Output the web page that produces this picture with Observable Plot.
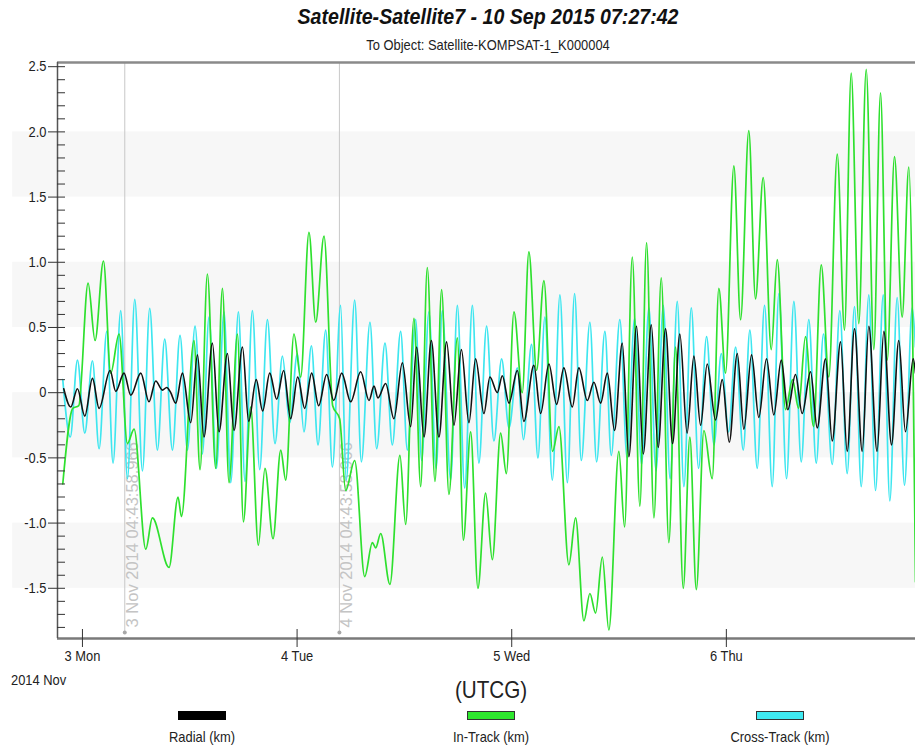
<!DOCTYPE html>
<html><head><meta charset="utf-8">
<script src="https://cdn.jsdelivr.net/npm/d3@7"></script>
<script src="https://cdn.jsdelivr.net/npm/@observablehq/plot@0.6"></script>
<style>
body{margin:0;background:#fff;}
#wrap{position:relative;width:915px;height:746px;overflow:hidden;font-family:'Liberation Sans',Arial,sans-serif;color:#111;}
.abs{position:absolute;white-space:nowrap;line-height:1;}
.c{transform:translateX(-50%) scaleX(0.86);}
.l{transform-origin:left center;transform:scaleX(0.86);}
.sw{position:absolute;width:46px;height:7px;border:1px solid #333;}
#chart{position:absolute;left:0;top:50px;}
</style></head><body>
<div id="wrap">
  <div class="abs" style="left:488px;top:6px;font-size:22px;font-weight:bold;font-style:italic;transform:translateX(-50%) scaleX(0.89);">Satellite-Satellite7 - 10 Sep 2015 07:27:42</div>
  <div class="abs c" style="left:488px;top:37px;font-size:15px;color:#222;">To Object: Satellite-KOMPSAT-1_K000004</div>
  <div id="chart"></div>
  <div class="abs l" style="left:11px;top:672px;font-size:15px;color:#222;">2014 Nov</div>
  <div class="abs c" style="left:491px;top:678px;font-size:24px;color:#222;">(UTCG)</div>
  <div class="sw" style="left:178px;top:711px;background:#000;border-color:#000;"></div>
  <div class="sw" style="left:467px;top:711px;background:#2ee82e;"></div>
  <div class="sw" style="left:756px;top:711px;background:#3feaf2;"></div>
  <div class="abs c" style="left:202px;top:729px;font-size:15px;color:#222;">Radial (km)</div>
  <div class="abs c" style="left:491px;top:729px;font-size:15px;color:#222;">In-Track (km)</div>
  <div class="abs c" style="left:780px;top:729px;font-size:15px;color:#222;">Cross-Track (km)</div>
</div>
<script>
// hours since 2014-11-03 00:00 UTCG and values in km (read at extrema)
const crossHours = [-2.20,-1.36,-0.56,0.26,1.12,1.86,2.72,3.42,4.28,5.03,
5.85,6.71,7.52,8.38,9.20,10.06,10.91,11.74,12.59,13.41,
14.15,14.98,15.83,16.58,17.44,18.18,19.00,19.82,20.68,21.53,
22.36,23.17,24.03,24.77,25.60,26.34,27.20,27.95,28.87,29.49,
30.44,31.19,32.15,32.90,33.83,34.65,35.58,36.33,37.26,37.93,
38.74,39.55,40.24,41.17,41.92,42.74,43.60,44.33,45.19,46.01,
46.87,47.69,48.63,49.30,50.22,50.93,51.71,52.54,53.39,54.22,
55.03,55.78,56.74,57.49,58.42,59.13,60.09,60.90,61.74,62.52,
63.34,64.14,64.95,65.71,66.51,67.25,68.08,68.89,69.79,70.62,
71.43,72.25,73.03,73.89,74.63,75.45,76.27,77.13,77.87,78.73,
79.55,80.37,81.22,82.05,82.86,83.84,84.69,85.51,86.33,87.08,
87.93,88.68,89.54,90.28,91.10,91.92,92.78,93.15];
const crossKm = [0.10,-0.34,0.25,-0.31,0.245,-0.43,0.47,-0.54,0.63,-0.66,
0.715,-0.60,0.646,-0.44,0.41,-0.44,0.44,-0.44,0.51,-0.47,
0.58,-0.58,0.62,-0.69,0.62,-0.68,0.63,-0.59,0.56,-0.39,
0.28,-0.23,0.30,-0.30,0.36,-0.40,0.48,-0.57,0.67,-0.67,
0.71,-0.53,0.54,-0.43,0.38,-0.40,0.47,-0.44,0.56,-0.52,
0.62,-0.58,0.63,-0.67,0.67,-0.73,0.67,-0.54,0.51,-0.37,
0.26,-0.27,0.19,-0.36,0.37,-0.50,0.58,-0.67,0.75,-0.69,
0.76,-0.52,0.54,-0.53,0.47,-0.48,0.56,-0.50,0.57,-0.55,
0.65,-0.60,0.67,-0.66,0.70,-0.72,0.65,-0.58,0.43,-0.40,
0.30,-0.30,0.35,-0.44,0.48,-0.58,0.67,-0.72,0.76,-0.66,
0.70,-0.53,0.56,-0.54,0.45,-0.55,0.63,-0.62,0.66,-0.72,
0.75,-0.75,0.75,-0.83,0.73,-0.71,0.65,0.35];

const inTrackHours = [-2.20,-1.08,-0.41,0.63,1.41,2.35,3.16,4.09,5.03,5.77,
7.08,7.82,9.68,10.69,11.07,12.47,13.15,13.97,14.90,15.65,
16.39,17.33,18.00,18.81,19.67,20.41,21.31,22.17,22.73,23.65,
24.40,25.33,26.08,27.01,27.98,28.76,29.43,30.44,31.56,32.42,
32.79,33.35,34.38,35.50,36.14,37.07,37.82,38.56,39.42,40.16,
40.98,41.92,42.59,43.41,44.22,45.08,45.83,46.76,47.40,48.25,
49.18,49.92,50.78,51.60,52.57,53.28,54.39,55.14,56.07,56.74,
57.38,58.13,58.86,59.98,60.62,61.48,62.33,63.08,63.90,64.72,
65.57,66.32,67.18,67.92,68.64,69.49,70.42,71.16,71.91,72.84,
73.59,74.51,75.26,76.12,77.02,77.69,78.62,79.40,80.07,80.85,
81.75,82.61,83.46,84.40,85.21,85.96,86.81,87.64,88.49,89.24,
89.99,90.80,91.66,92.40,93.15];
const inTrackKm = [-0.70,-0.12,-0.10,0.84,0.40,1.01,0.15,0.45,-0.39,-0.28,
-1.20,-0.96,-1.34,-0.80,-0.95,0.40,-0.59,0.91,-0.58,0.80,
-0.69,0.45,-0.99,-0.11,-1.17,-0.58,-1.12,-0.44,-0.67,0.45,
0.12,1.23,0.54,1.20,-0.10,-0.20,-0.75,-0.52,-1.41,-1.15,
-1.19,-1.08,-1.47,-0.48,-1.01,0.57,-0.72,0.96,-0.68,0.79,
-0.78,0.42,-1.13,-0.30,-1.50,-0.77,-1.28,-0.31,-0.62,0.62,
0.00,1.08,0.17,0.86,-0.45,-0.26,-1.32,-0.96,-1.75,-1.54,
-1.69,-1.26,-1.82,-0.45,-1.03,1.04,-0.87,1.15,-0.96,0.88,
-1.15,0.35,-1.50,-0.34,-1.51,-0.29,-0.66,0.80,0.15,1.74,
0.56,2.01,0.72,1.65,0.33,1.02,-0.13,0.10,-0.12,0.43,
-0.26,0.98,0.12,1.83,0.48,2.45,0.53,2.48,0.33,2.30,
0.25,1.81,0.58,1.73,-1.45];

const radialHours = [-2.09,-1.31,-0.56,0.26,1.12,1.86,3.09,3.72,4.65,5.40,
6.52,7.44,8.19,8.94,9.42,9.87,10.43,11.18,12.11,12.86,
13.59,14.53,15.27,16.21,16.95,17.89,18.59,19.43,20.15,20.94,
21.72,22.50,23.28,24.07,24.85,25.63,26.41,27.31,28.09,28.99,
29.99,31.11,32.04,32.60,33.04,33.90,34.83,35.77,36.70,37.37,
38.19,39.01,39.86,40.72,41.54,42.37,43.22,43.96,44.89,45.56,
46.39,46.95,47.69,48.63,49.36,50.48,51.23,52.16,53.02,53.83,
54.77,55.51,56.45,57.19,57.94,58.69,59.50,60.36,61.10,61.96,
62.71,63.61,64.37,65.20,65.99,66.80,67.61,68.37,69.12,69.86,
70.79,71.54,72.33,73.22,73.96,74.82,75.63,76.49,77.31,78.14,
78.87,79.73,80.48,81.41,82.16,83.09,83.84,84.77,85.51,86.33,
87.19,87.93,88.85,89.61,90.47,91.28,92.03,92.89,93.15];
const radialKm = [0.03,-0.11,0.03,-0.18,0.11,-0.12,0.17,0.01,0.15,-0.02,
0.15,-0.07,0.09,0.02,0.04,0.00,-0.08,0.15,-0.23,0.29,
-0.34,0.38,-0.30,0.30,-0.29,0.35,-0.22,0.10,-0.14,0.15,
-0.05,0.17,-0.20,0.12,-0.12,0.15,-0.10,0.14,-0.06,0.15,
-0.07,0.16,-0.06,0.05,-0.04,0.07,-0.20,0.23,-0.26,0.35,
-0.34,0.40,-0.34,0.39,-0.25,0.33,-0.23,0.26,-0.16,0.12,
0.00,0.13,-0.08,0.17,-0.22,0.21,-0.16,0.22,-0.09,0.19,
-0.11,0.19,-0.06,0.08,-0.08,0.15,-0.29,0.38,-0.49,0.51,
-0.47,0.52,-0.42,0.49,-0.39,0.45,-0.31,0.28,-0.25,0.22,
-0.21,0.10,-0.38,0.30,-0.28,0.29,-0.19,0.26,-0.17,0.25,
-0.13,0.14,-0.16,0.16,-0.27,0.26,-0.37,0.39,-0.45,0.49,
-0.45,0.51,-0.45,0.47,-0.40,0.40,-0.30,0.26,0.15];

const yMajorTicks = [-1.5,-1.0,-0.5,0,0.5,1.0,1.5,2.0,2.5];
const dayTicks = ["2014-11-03","2014-11-04","2014-11-05","2014-11-06"];
const eventTimes = ["2014-11-03T04:43:58.966Z","2014-11-04T04:43:58.966Z"];
const bandRanges = [[1.5,2.0],[0.5,1.0],[-0.5,0],[-1.5,-1.0]];

const base = Date.UTC(2014,10,3);
const t = h => new Date(base + h*3600e3);
const toRows = (hs, vs) => hs.map((h,i)=>({time:t(h), km:vs[i]}));
const cross = toRows(crossHours, crossKm);
const inTrack = toRows(inTrackHours, inTrackKm);
const radial = toRows(radialHours, radialKm);
const days = dayTicks.map(d=>new Date(d+"T00:00:00Z"));
const events = eventTimes.map(d=>new Date(d));
const yMinorTicks = d3.range(-18,26).map(i=>i/10).filter(v=>!yMajorTicks.some(m=>Math.abs(m-v)<1e-9));

const xDomain = [t(-2.79), t(93.15)];
const yDomain = [-1.885, 2.532];
const dayFmt = d3.utcFormat("%-d %a");
const evFmt = d3.utcFormat("%-d %b %Y %H:%M:%S.%L");
const font = "'Liberation Sans',Arial,sans-serif";

const chart = Plot.plot({
  width: 915, height: 622,
  marginTop: 12, marginBottom: 34, marginLeft: 57, marginRight: 0,
  style: {fontFamily: font, fontSize: "15px", color: "#222", background: "transparent"},
  x: {type: "utc", domain: xDomain},
  y: {domain: yDomain},
  marks: [
    Plot.rect(bandRanges, {x1: () => t(-7.8), x2: () => xDomain[1], y1: d=>d[0], y2: d=>d[1], fill: "#f7f7f7"}),
    Plot.ruleX(events, {x: d=>d, y1: -1.839, y2: yDomain[1], stroke: "#c8c8c8", strokeWidth: 1}),
    Plot.dot(events, {x: d=>d, y: -1.839, r: 2, fill: "#a8a8a8"}),
    Plot.text(events, {x: d=>d, y: -1.80, text: d=>evFmt(d), rotate: -90, textAnchor: "start", lineAnchor: "bottom", dx: 13, fill: "#c4c4c4", fontSize: 16.5}),
    Plot.line(cross, {x: "time", y: "km", stroke: "#3ee6ef", strokeWidth: 1.7, curve: "monotone-x"}),
    Plot.line(inTrack, {x: "time", y: "km", stroke: "#2ee02e", strokeWidth: 1.7, curve: "monotone-x"}),
    Plot.line(radial, {x: "time", y: "km", stroke: "#111", strokeWidth: 1.6, curve: "monotone-x"}),
    Plot.ruleY([yDomain[1]], {stroke: "#8a8a8a", strokeWidth: 2.5}),
    Plot.ruleY([yDomain[0]], {stroke: "#7a7a7a", strokeWidth: 2.5}),
    Plot.ruleX([xDomain[0]], {stroke: "#555", strokeWidth: 1.5}),
    Plot.axisY(yMinorTicks, {tickSize: 8, dx: 8, tickFormat: () => "", stroke: "#333", label: null}),
    Plot.axisY(yMajorTicks, {tickSize: 17, dx: 8, tickFormat: () => "", stroke: "#333", label: null}),
    Plot.axisY(yMajorTicks, {tickSize: 0, tickPadding: 11, tickFormat: d => d === 0 ? "0" : d.toFixed(1), fill: "#222", fontSize: 15, label: null}),
    Plot.axisX(days, {tickSize: 18, dy: -9, tickFormat: () => "", stroke: "#333", label: null}),
    Plot.axisX(days, {tickSize: 0, tickPadding: 12, tickFormat: dayFmt, fill: "#222", fontSize: 15, label: null})
  ]
});
// condensed look of the original tick labels
chart.querySelectorAll('[aria-label$="tick label"] text').forEach(el => {
  const tr = el.getAttribute("transform");
  if (tr) el.setAttribute("transform", tr + " scale(0.86,1)");
});
document.getElementById("chart").appendChild(chart);
</script>
</body></html>
